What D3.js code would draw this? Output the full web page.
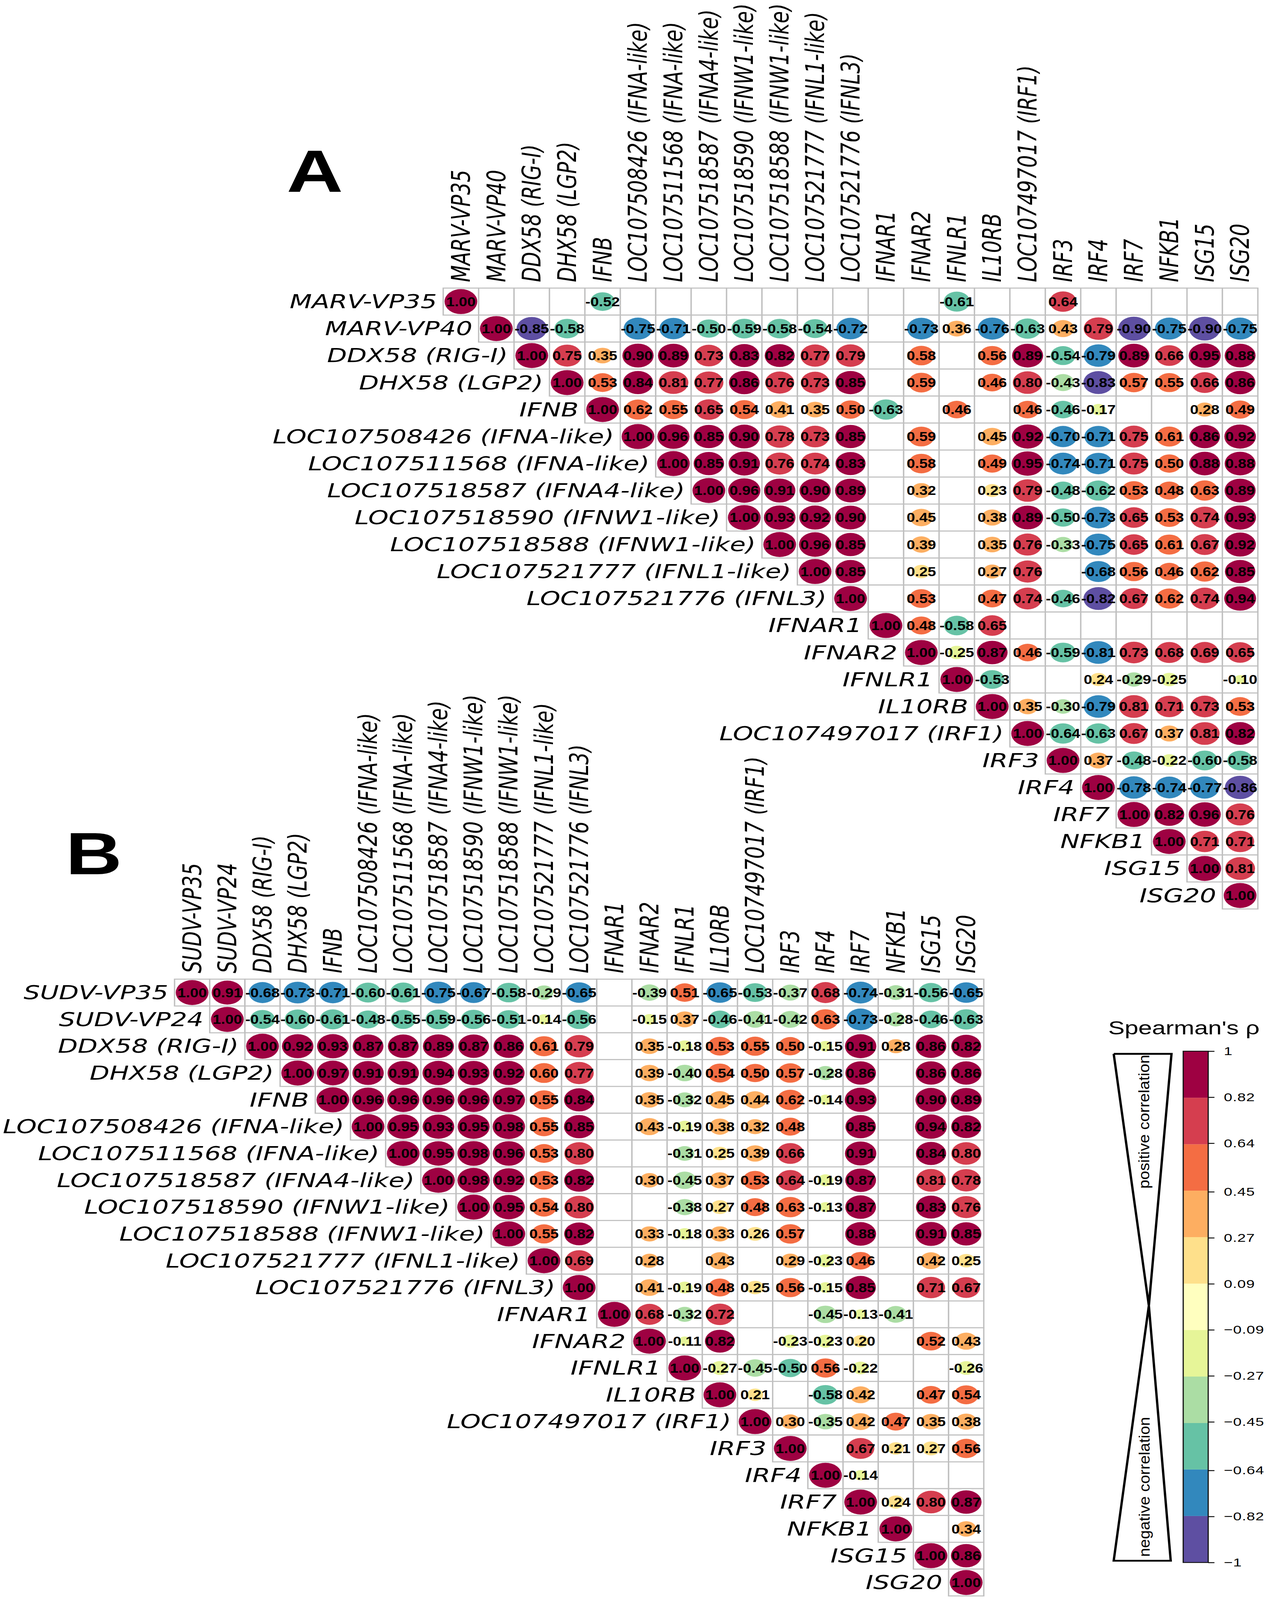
<!DOCTYPE html>
<html>
<head>
<meta charset="utf-8">
<script src="https://cdn.jsdelivr.net/npm/d3@7"></script>
<style>
html, body { margin: 0; padding: 0; background: #fff; overflow: hidden; }
</style>
</head>
<body>
<div id="chart"></div>
<script>
// gene labels shared by both panels
var sharedGenes = ["DDX58 (RIG-I)", "DHX58 (LGP2)", "IFNB",
	"LOC107508426 (IFNA-like)", "LOC107511568 (IFNA-like)", "LOC107518587 (IFNA4-like)",
	"LOC107518590 (IFNW1-like)", "LOC107518588 (IFNW1-like)", "LOC107521777 (IFNL1-like)",
	"LOC107521776 (IFNL3)", "IFNAR1", "IFNAR2", "IFNLR1", "IL10RB", "LOC107497017 (IRF1)",
	"IRF3", "IRF4", "IRF7", "NFKB1", "ISG15", "ISG20"];
var varsA = ["MARV-VP35", "MARV-VP40"].concat(sharedGenes);
var varsB = ["SUDV-VP35", "SUDV-VP24"].concat(sharedGenes);

// upper triangle, each row starts at the diagonal; null = blank cell
var rowsA = [
	[1.00,null,null,null,-0.52,null,null,null,null,null,null,null,null,null,-0.61,null,null,0.64,null,null,null,null,null],
	[1.00,-0.85,-0.58,null,-0.75,-0.71,-0.50,-0.59,-0.58,-0.54,-0.72,null,-0.73,0.36,-0.76,-0.63,0.43,0.79,-0.90,-0.75,-0.90,-0.75],
	[1.00,0.75,0.35,0.90,0.89,0.73,0.83,0.82,0.77,0.79,null,0.58,null,0.56,0.89,-0.54,-0.79,0.89,0.66,0.95,0.88],
	[1.00,0.53,0.84,0.81,0.77,0.86,0.76,0.73,0.85,null,0.59,null,0.46,0.80,-0.43,-0.83,0.57,0.55,0.66,0.86],
	[1.00,0.62,0.55,0.65,0.54,0.41,0.35,0.50,-0.63,null,0.455,null,0.46,-0.46,-0.17,null,null,0.28,0.49],
	[1.00,0.96,0.85,0.90,0.78,0.73,0.85,null,0.59,null,0.45,0.92,-0.70,-0.71,0.75,0.61,0.86,0.92],
	[1.00,0.85,0.91,0.76,0.74,0.83,null,0.58,null,0.49,0.95,-0.74,-0.71,0.75,0.50,0.88,0.88],
	[1.00,0.96,0.91,0.90,0.89,null,0.32,null,0.23,0.79,-0.48,-0.62,0.53,0.48,0.63,0.89],
	[1.00,0.93,0.92,0.90,null,0.45,null,0.38,0.89,-0.50,-0.73,0.65,0.53,0.74,0.93],
	[1.00,0.96,0.85,null,0.39,null,0.35,0.76,-0.33,-0.75,0.65,0.61,0.67,0.92],
	[1.00,0.85,null,0.25,null,0.274,0.76,null,-0.68,0.56,0.455,0.62,0.85],
	[1.00,null,0.53,null,0.47,0.74,-0.46,-0.82,0.67,0.62,0.74,0.94],
	[1.00,0.48,-0.58,0.65,null,null,null,null,null,null,null],
	[1.00,-0.25,0.87,0.455,-0.59,-0.81,0.73,0.68,0.69,0.65],
	[1.00,-0.53,null,null,0.24,-0.29,-0.25,null,-0.10],
	[1.00,0.35,-0.30,-0.79,0.81,0.71,0.73,0.53],
	[1.00,-0.636,-0.63,0.67,0.37,0.81,0.82],
	[1.00,0.37,-0.48,-0.22,-0.60,-0.58],
	[1.00,-0.78,-0.74,-0.77,-0.86],
	[1.00,0.82,0.96,0.76],
	[1.00,0.71,0.71],
	[1.00,0.81],
	[1.00]
];
var rowsB = [
	[1.00,0.91,-0.68,-0.73,-0.71,-0.60,-0.61,-0.75,-0.67,-0.58,-0.29,-0.65,null,-0.39,0.51,-0.65,-0.53,-0.37,0.68,-0.74,-0.31,-0.56,-0.65],
	[1.00,-0.54,-0.60,-0.61,-0.48,-0.55,-0.59,-0.56,-0.51,-0.14,-0.56,null,-0.15,0.37,-0.46,-0.41,-0.42,0.63,-0.73,-0.28,-0.46,-0.63],
	[1.00,0.92,0.93,0.87,0.87,0.89,0.87,0.86,0.61,0.79,null,0.35,-0.18,0.53,0.55,0.50,-0.15,0.91,0.28,0.86,0.82],
	[1.00,0.97,0.91,0.91,0.94,0.93,0.92,0.60,0.77,null,0.39,-0.40,0.54,0.50,0.57,-0.28,0.86,null,0.86,0.86],
	[1.00,0.96,0.96,0.96,0.96,0.97,0.55,0.84,null,0.35,-0.32,0.45,0.44,0.62,-0.14,0.93,null,0.90,0.89],
	[1.00,0.95,0.93,0.95,0.98,0.55,0.85,null,0.43,-0.19,0.38,0.32,0.48,null,0.85,null,0.94,0.82],
	[1.00,0.95,0.98,0.96,0.53,0.80,null,null,-0.31,0.25,0.39,0.66,null,0.91,null,0.84,0.80],
	[1.00,0.98,0.92,0.53,0.82,null,0.30,-0.45,0.37,0.53,0.64,-0.19,0.87,null,0.81,0.78],
	[1.00,0.95,0.54,0.80,null,null,-0.38,0.27,0.48,0.63,-0.13,0.87,null,0.83,0.76],
	[1.00,0.55,0.82,null,0.33,-0.18,0.33,0.26,0.57,null,0.88,null,0.91,0.85],
	[1.00,0.69,null,0.28,null,0.43,null,0.29,-0.23,0.46,null,0.42,0.25],
	[1.00,null,0.41,-0.19,0.48,0.25,0.56,-0.15,0.85,null,0.71,0.67],
	[1.00,0.68,-0.32,0.72,null,null,-0.45,-0.13,-0.41,null,null],
	[1.00,-0.11,0.82,null,-0.23,-0.23,0.20,null,0.52,0.43],
	[1.00,-0.27,-0.45,-0.50,0.56,-0.22,null,null,-0.26],
	[1.00,0.21,null,-0.58,0.42,null,0.47,0.54],
	[1.00,0.30,-0.35,0.42,0.47,0.35,0.38],
	[1.00,null,0.67,0.21,0.27,0.56],
	[1.00,-0.14,null,null,null],
	[1.00,0.24,0.80,0.87],
	[1.00,null,0.34],
	[1.00,0.86],
	[1.00]
];

// colour bins (Spectral, 11 classes) and legend ticks
var binEdges = [-1, -0.818, -0.636, -0.4545, -0.2727, -0.0909, 0.0909, 0.2727, 0.4545, 0.636, 0.818, 1];
var binColors = ["#5E4FA2", "#3288BD", "#66C2A5", "#ABDDA4", "#E6F598", "#FFFFBF",
	"#FEE08B", "#FDAE61", "#F46D43", "#D53E4F", "#9E0142"];
var legendTicks = [1, 0.82, 0.64, 0.45, 0.27, 0.09, -0.09, -0.27, -0.45, -0.64, -0.82, -1];

// drawing is laid out on the 3242x5376 figure and fitted to the window
var W = 3242, H = 5376;
var vw = window.innerWidth || W, vh = window.innerHeight || H;
var svg = d3.select("#chart").append("svg")
	.attr("width", vw).attr("height", vh)
	.attr("viewBox", "0 0 " + W + " " + H)
	.attr("preserveAspectRatio", "none")
	.style("display", "block")
	.style("font-family", "'Liberation Sans', Arial, sans-serif");
svg.append("rect").attr("width", W).attr("height", H).attr("fill", "#fff");

var color = d3.scaleThreshold().domain(binEdges.slice(1, -1)).range(binColors);
var radius = d3.scalePow().exponent(0.45).domain([0, 1]).range([0, 42]);

function drawPanel(vars, rows, x0, y0, cell, letter, lx, ly)
{
	var n = vars.length;
	var x = d3.scaleBand().domain(d3.range(n)).range([x0, x0 + n * cell]);
	var y = d3.scaleBand().domain(d3.range(n)).range([y0, y0 + n * cell]);
	var g = svg.append("g");

	var cells = [];
	rows.forEach(function(r, i) {
		r.forEach(function(v, k) { cells.push({i: i, j: i + k, v: v}); });
	});

	g.selectAll("rect.cell").data(cells).enter().append("rect")
		.attr("class", "cell")
		.attr("x", function(d) { return x(d.j); })
		.attr("y", function(d) { return y(d.i); })
		.attr("width", x.bandwidth())
		.attr("height", y.bandwidth())
		.attr("fill", "#fff")
		.attr("stroke", "#C0C0C0")
		.attr("stroke-width", 3.5);

	var filled = cells.filter(function(d) { return d.v !== null; });
	g.selectAll("circle").data(filled).enter().append("circle")
		.attr("cx", function(d) { return x(d.j) + cell / 2; })
		.attr("cy", function(d) { return y(d.i) + cell / 2; })
		.attr("r", function(d) { return radius(Math.abs(d.v)); })
		.attr("fill", function(d) { return color(d.v); });

	g.selectAll("text.val").data(filled).enter().append("text")
		.attr("class", "val")
		.attr("transform", function(d) {
			return "translate(" + (x(d.j) + cell / 2) + "," + (y(d.i) + cell / 2) + ") scale(0.88,1)";
		})
		.attr("text-anchor", "middle")
		.attr("dominant-baseline", "central")
		.style("font-size", "44px")
		.style("font-weight", "bold")
		.text(function(d) { return d.v.toFixed(2); });

	// row labels, right aligned against the diagonal cell
	g.selectAll("text.rowlab").data(vars).enter().append("text")
		.attr("class", "rowlab")
		.attr("x", function(d, i) { return x(i) - 16; })
		.attr("y", function(d, i) { return y(i) + cell / 2; })
		.attr("text-anchor", "end")
		.attr("dominant-baseline", "central")
		.style("font-family", "'DejaVu Sans', Verdana, sans-serif")
		.style("font-style", "italic")
		.style("font-size", "66px")
		.text(function(d) { return d; });

	// column labels, vertical
	g.selectAll("text.collab").data(vars).enter().append("text")
		.attr("class", "collab")
		.attr("transform", function(d, i) {
			return "translate(" + (x(i) + cell / 2) + "," + (y0 - 20) + ") rotate(-90)";
		})
		.attr("text-anchor", "start")
		.attr("dominant-baseline", "central")
		.style("font-family", "'DejaVu Sans', Verdana, sans-serif")
		.style("font-style", "italic")
		.style("font-size", "66px")
		.text(function(d) { return d; });

	svg.append("text")
		.attr("x", lx).attr("y", ly)
		.style("font-size", "200px")
		.style("font-weight", "bold")
		.text(letter);
}

drawPanel(varsA, rowsA, 1135, 968, 90.7, "A", 734, 645);
drawPanel(varsB, rowsB, 447, 3290, 90.1, "B", 168, 2937);

// legend
var lg = svg.append("g");
var ly = d3.scaleLinear().domain([-1, 1]).range([5250, 3532]);
var barX = 3030, barW = 64;

lg.append("text")
	.attr("x", 2838).attr("y", 3476)
	.style("font-size", "63px")
	.text("Spearman's \u03C1");

var bins = binColors.map(function(c, i) { return {c: c, lo: binEdges[i], hi: binEdges[i + 1]}; });
lg.selectAll("rect.bin").data(bins).enter().append("rect")
	.attr("class", "bin")
	.attr("x", barX)
	.attr("y", function(d) { return ly(d.hi); })
	.attr("width", barW)
	.attr("height", function(d) { return ly(d.lo) - ly(d.hi); })
	.attr("fill", function(d) { return d.c; });
lg.append("rect")
	.attr("x", barX).attr("y", ly(1))
	.attr("width", barW).attr("height", ly(-1) - ly(1))
	.attr("fill", "none").attr("stroke", "#111").attr("stroke-width", 3);

var axis = d3.axisRight(ly)
	.tickValues(legendTicks)
	.tickSize(16)
	.tickPadding(24)
	.tickFormat(function(d) { return d < 0 ? "\u2212" + Math.abs(d) : "" + d; });
lg.append("g")
	.attr("transform", "translate(" + (barX + barW) + ",0)")
	.call(axis)
	.call(function(s) {
		s.select(".domain").remove();
		s.selectAll("line").attr("stroke", "#000").attr("stroke-width", 3);
		s.selectAll("text")
			.style("font-family", "'Liberation Sans', Arial, sans-serif")
			.style("font-size", "39px")
			.style("letter-spacing", "1px")
			.attr("fill", "#000");
	});

// hourglass showing positive / negative correlation
var apex = [2942, 4387];
lg.append("path")
	.attr("d", d3.line()([[2852, 3541], [3000, 3541], apex, [2852, 3541]]))
	.attr("fill", "none").attr("stroke", "#000").attr("stroke-width", 6);
lg.append("path")
	.attr("d", d3.line()([apex, [2998, 5244], [2852, 5244], apex]))
	.attr("fill", "none").attr("stroke", "#000").attr("stroke-width", 6);

lg.append("text")
	.attr("transform", "translate(2943,3994) rotate(-90)")
	.attr("textLength", 450)
	.attr("lengthAdjust", "spacingAndGlyphs")
	.style("font-size", "38px")
	.text("positive correlation");
lg.append("text")
	.attr("transform", "translate(2944,5231) rotate(-90)")
	.attr("textLength", 470)
	.attr("lengthAdjust", "spacingAndGlyphs")
	.style("font-size", "38px")
	.text("negative correlation");
</script>
</body>
</html>
